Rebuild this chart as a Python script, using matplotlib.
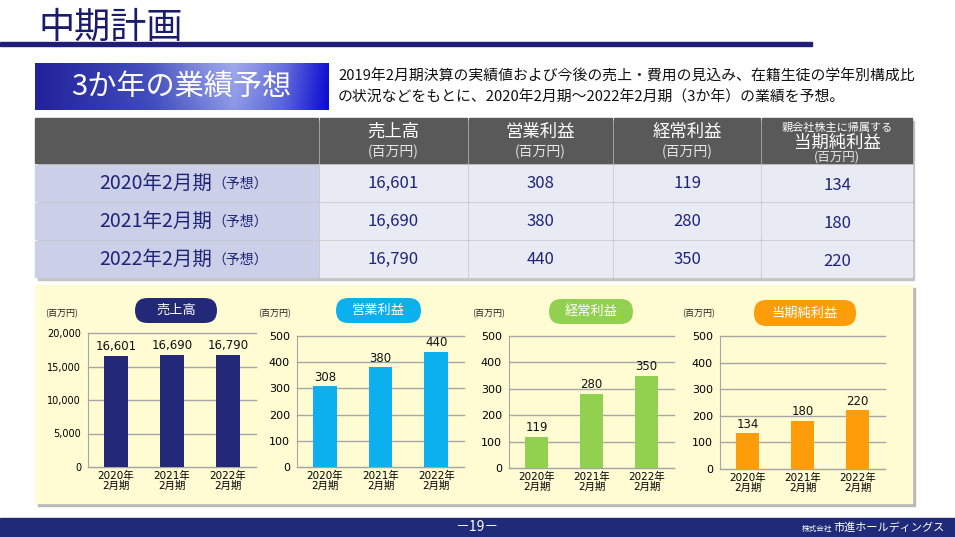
import numpy as np
import matplotlib.pyplot as plt
from matplotlib.patches import Rectangle, FancyBboxPatch
from matplotlib.colors import LinearSegmentedColormap

plt.rcParams['font.family'] = ['Noto Sans CJK JP', 'DejaVu Sans']
NUM = ['DejaVu Sans', 'Noto Sans CJK JP']

# data
years = ['2020年2月期', '2021年2月期', '2022年2月期']
sales = [16601, 16690, 16790]
op_profit = [308, 380, 440]
ord_profit = [119, 280, 350]
net_profit = [134, 180, 220]
metrics = ['売上高', '営業利益', '経常利益', '当期純利益']

W, H = 955, 537
fig = plt.figure(figsize=(W / 100, H / 100), dpi=100)
fig.patch.set_facecolor('white')
bg = fig.add_axes([0, 0, 1, 1])
bg.axis('off')

navy = '#1e2478'

# title
bg.text(38, 28, '中期計画', fontsize=26, color='#1b1b6b', ha='left', va='center')
bg.add_patch(Rectangle((0, 42), 812, 4, color='#1f1f78'))

# gradient box
cmap = LinearSegmentedColormap.from_list('box', [(0, '#22229a'), (0.4, '#3f4bbd'), (0.68, '#8b97e6'),
                                                 (0.85, '#5661d8'), (1, '#0c0cd2')])
gx = np.tile(np.linspace(0, 1, 300), (60, 1))
rgb = cmap(gx)[..., :3]
gy = np.linspace(0, 1, 60)[:, None]
shine = 0.18 * (1 - gy) * np.exp(-((gx - 0.65) / 0.25) ** 2)
rgb = rgb + (1 - rgb) * shine[..., None]
bg.imshow(rgb, extent=[35, 328, 110, 63], aspect='auto', zorder=2)
bg.text(181, 87, '3か年の業績予想', fontsize=21, color='white', ha='center', va='center', zorder=3)

bg.text(338, 77, '2019年2月期決算の実績値および今後の売上・費用の見込み、在籍生徒の学年別構成比',
        fontsize=10.7, color='#111111', ha='left', va='center')
bg.text(338, 97, 'の状況などをもとに、2020年2月期～2022年2月期（3か年）の業績を予想。',
        fontsize=10.7, color='#111111', ha='left', va='center')

# table
col_x = [35, 320, 469, 614, 762, 914]
row_y = [(118, 163), (165, 201), (203, 239), (241, 277)]
bg.add_patch(Rectangle((38, 121), 876, 159, color='#c4c4c4', zorder=1))
for r, (y0, y1) in enumerate(row_y):
    for c in range(5):
        x0, x1 = col_x[c], col_x[c + 1] - 2
        if r == 0:
            fc = '#595959'
        elif c == 0:
            fc = '#cbcfe7'
        else:
            fc = '#e8eaf4'
        bg.add_patch(Rectangle((x0, y0), x1 - x0, y1 - y0, color=fc, zorder=2))

for c, m in enumerate(metrics):
    cx = (col_x[c + 1] + col_x[c + 2] - 2) / 2
    if c < 3:
        bg.text(cx, 132, m, fontsize=12.5, color='white', ha='center', va='center', zorder=3)
        bg.text(cx, 152, '(百万円)', fontsize=10, color='#e6e6e6', ha='center', va='center', zorder=3)
    else:
        bg.text(cx, 128, '親会社株主に帰属する', fontsize=8, color='white', ha='center', va='center', zorder=3)
        bg.text(cx, 143, m, fontsize=12.5, color='white', ha='center', va='center', zorder=3)
        bg.text(cx, 157, '(百万円)', fontsize=9, color='#e6e6e6', ha='center', va='center', zorder=3)

table_vals = [sales, op_profit, ord_profit, net_profit]
for r, yr in enumerate(years):
    y0, y1 = row_y[r + 1]
    cy = (y0 + y1) / 2
    bg.text(212, cy, yr, fontsize=14, color=navy, ha='right', va='center', zorder=3)
    bg.text(212, cy + 1, '（予想）', fontsize=10, color=navy, ha='left', va='center', zorder=3)
    for c, vals in enumerate(table_vals):
        cx = (col_x[c + 1] + col_x[c + 2] - 2) / 2
        bg.text(cx, cy + (2 if c == 3 else 0), f'{vals[r]:,}', fontsize=12, color=navy,
                ha='center', va='center', zorder=3)

# chart panel
bg.add_patch(Rectangle((38, 288), 877, 218, color='#b8b8b8', zorder=1))
bg.add_patch(Rectangle((35, 285), 877, 218, color='#fffcd4', zorder=2))

# footer
bg.add_patch(Rectangle((0, 518), W, 19, color='#1f2a78', zorder=2))
bg.text(477, 527, '－19－', fontsize=10, color='white', ha='center', va='center', zorder=3)
bg.text(945, 528, '市進ホールディングス', fontsize=8, color='white', ha='right', va='center', zorder=3)
bg.text(832, 528.5, '株式会社', fontsize=5.5, color='white', ha='right', va='center', zorder=3)

bg.set_xlim(0, W)
bg.set_ylim(H, 0)


def px_axes(x0, y0, x1, y1):
    return fig.add_axes([x0 / W, 1 - y1 / H, (x1 - x0) / W, (y1 - y0) / H])


def draw_chart(box, values, color, ymax, step, title, pill, unit_x, big=False):
    ax = px_axes(*box)
    ax.patch.set_alpha(0)
    ax.bar(range(3), values, width=0.42, color=color, zorder=3)
    ax.set_xlim(-0.5, 2.5)
    ax.set_ylim(0, ymax)
    ticks = np.arange(0, ymax + 1, step)
    ax.set_yticks(ticks)
    if big:
        ax.set_yticklabels([f'{t:,}' for t in ticks], family=NUM, fontsize=7)
    else:
        ax.set_yticklabels([str(t) for t in ticks], family=NUM, fontsize=8)
    ax.set_xticks(range(3))
    ax.set_xticklabels([y.replace('年', '年\n') for y in years], family=NUM, fontsize=7.5,
                       linespacing=1.0)
    ax.yaxis.grid(True, color='#a6a6a6', lw=1, clip_on=False)
    ax.set_axisbelow(True)
    for s in ['top', 'right']:
        ax.spines[s].set_visible(False)
    for s in ['left', 'bottom']:
        ax.spines[s].set_color('#a6a6a6')
    ax.tick_params(length=0, pad=5)
    ax.tick_params(axis='x', pad=3)
    for i, v in enumerate(values):
        ax.annotate(f'{v:,}', (i, v), xytext=(0, 2), textcoords='offset points', ha='center',
                    va='bottom', fontsize=8.5, family=NUM, color='#111111', zorder=4)
    px0, py0, px1, py1 = pill
    bg.add_patch(FancyBboxPatch((px0, py0), px1 - px0, py1 - py0,
                                boxstyle='round,pad=0,rounding_size=12.5', fc=color, ec='none', zorder=3))
    bg.text((px0 + px1) / 2, (py0 + py1) / 2, title, fontsize=9.5, color='white',
            ha='center', va='center', zorder=4)
    bg.text(unit_x, 314, '(百万円)', fontsize=6.5, color='#222222', ha='left', va='center', zorder=4)


draw_chart((88, 333, 256, 467), sales, '#232878', 20000, 5000, metrics[0], (135, 298, 217, 323), 45, big=True)
draw_chart((297, 336, 464, 467), op_profit, '#0cb0ee', 500, 100, metrics[1], (336, 298, 421, 323), 258)
draw_chart((509, 336, 674, 468), ord_profit, '#92d050', 500, 100, metrics[2], (549, 299, 633, 324), 472)
draw_chart((720, 336, 885, 469), net_profit, '#ff9c0a', 500, 100, metrics[3], (754, 300, 856, 326), 682)

fig.savefig('out.png', dpi=100)
